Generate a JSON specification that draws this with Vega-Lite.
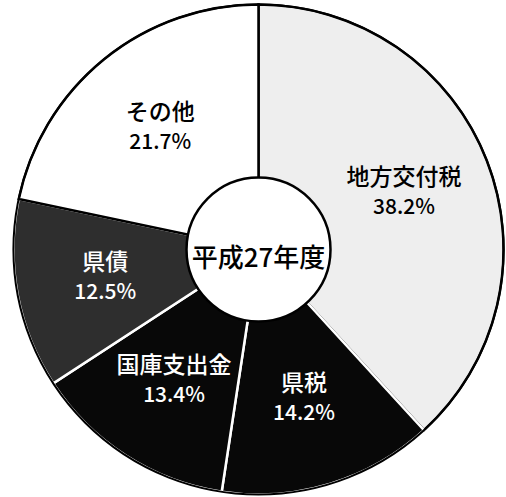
{
  "$schema": "https://vega.github.io/schema/vega-lite/v6.json",
  "width": 506,
  "height": 497,
  "autosize": {"type": "fit", "contains": "padding"},
  "padding": {"left": 11, "right": 0, "top": 2, "bottom": 0},
  "background": "white",
  "view": {"stroke": null},
  "data": {
    "values": [
      {"rank": 1, "item": "地方交付税", "share": 0.382},
      {"rank": 2, "item": "県税", "share": 0.142},
      {"rank": 3, "item": "国庫支出金", "share": 0.134},
      {"rank": 4, "item": "県債", "share": 0.125},
      {"rank": 5, "item": "その他", "share": 0.217}
    ]
  },
  "layer": [
    {
      "mark": {"type": "arc", "radius": 245, "strokeWidth": 2.5},
      "encoding": {
        "theta": {"field": "share", "type": "quantitative", "stack": true},
        "order": {"field": "rank", "type": "quantitative", "sort": "ascending"},
        "color": {
          "field": "item", "type": "nominal",
          "scale": {"domain": ["地方交付税", "県税", "国庫支出金", "県債", "その他"], "range": ["#eeeeee", "#080808", "#080808", "#2e2e2e", "#ffffff"]},
          "legend": null
        },
        "stroke": {"condition": {"test": "indexof(['県税','国庫支出金','県債'], datum.item) >= 0", "value": "#ffffff"}, "value": "#000000"}
      }
    },
    {
      "data": {"values": [{}]},
      "mark": {"type": "arc", "radius": 245, "theta": 0, "theta2": 6.2832, "filled": false, "stroke": "#000000", "strokeWidth": 2},
      "encoding": {}
    },
    {
      "data": {"values": [{}]},
      "mark": {"type": "arc", "radius": 72, "theta": 0, "theta2": 6.2832, "fill": "#ffffff", "stroke": "#000000", "strokeWidth": 2.5},
      "encoding": {}
    },
    {
      "data": {"values": [{"t": "平成27年度"}]},
      "mark": {"type": "text", "fontSize": 26, "font": "Noto Sans CJK JP", "fontWeight": 500, "dy": 9, "color": "#000000"},
      "encoding": {"text": {"field": "t"}}
    },
    {
      "mark": {"type": "text", "radius": 156, "dy": -15, "fontSize": 23, "font": "Noto Sans CJK JP", "fontWeight": 500},
      "encoding": {
        "theta": {"field": "share", "type": "quantitative", "stack": true},
        "order": {"field": "rank", "type": "quantitative", "sort": "ascending"},
        "fill": {"condition": {"test": "indexof(['県税','国庫支出金','県債'], datum.item) >= 0", "value": "#ffffff"}, "value": "#000000"},
        "text": {"field": "item"}
      }
    },
    {
      "mark": {"type": "text", "radius": 156, "dy": 15, "fontSize": 21, "font": "Noto Sans CJK JP", "fontWeight": 500},
      "encoding": {
        "theta": {"field": "share", "type": "quantitative", "stack": true},
        "order": {"field": "rank", "type": "quantitative", "sort": "ascending"},
        "fill": {"condition": {"test": "indexof(['県税','国庫支出金','県債'], datum.item) >= 0", "value": "#ffffff"}, "value": "#000000"},
        "text": {"field": "share", "type": "quantitative", "format": ".1%"}
      }
    }
  ]
}
